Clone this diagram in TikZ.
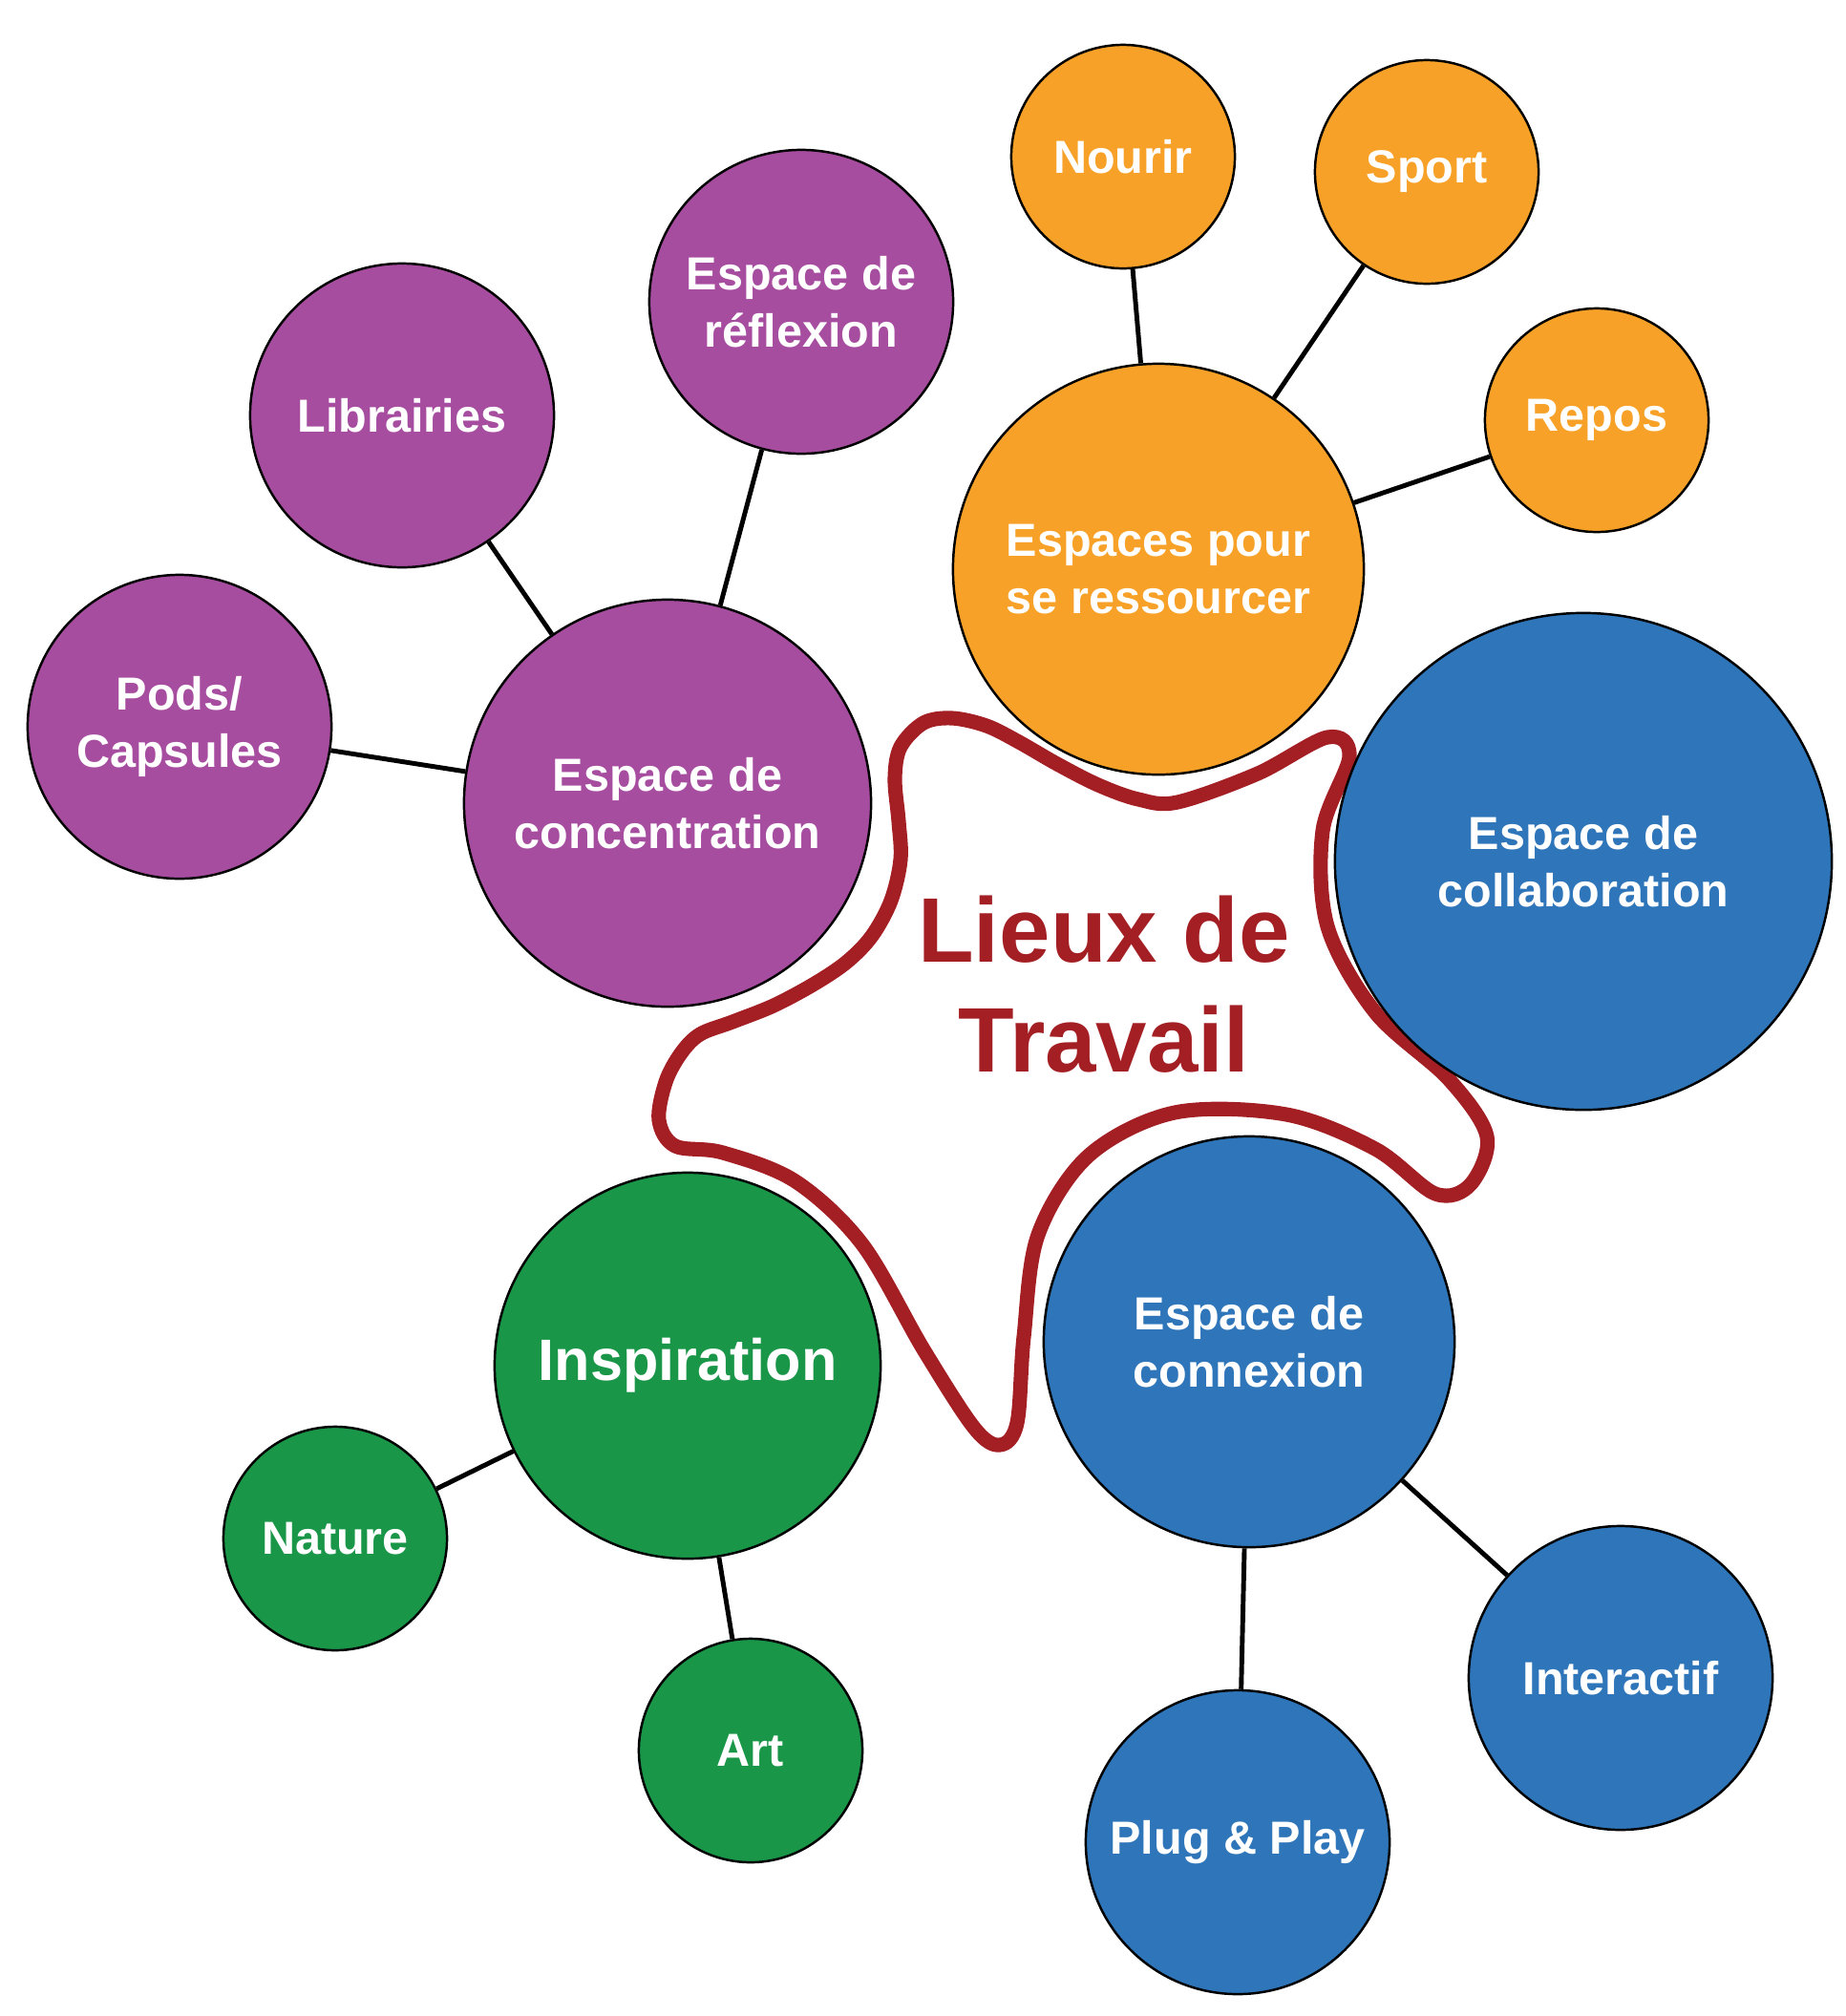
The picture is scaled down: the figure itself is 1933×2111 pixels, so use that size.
\documentclass[tikz,border=0pt]{standalone}
\usepackage{fontspec}
\setmainfont{Liberation Sans}
\usepackage{tikz}
\usetikzlibrary{backgrounds}
\definecolor{cpurple}{HTML}{A64DA0}
\definecolor{corange}{HTML}{F7A128}
\definecolor{cblue}{HTML}{2E75B9}
\definecolor{cgreen}{HTML}{1A9648}
\definecolor{cred}{HTML}{A31F24}
\newcommand{\bubfont}{\fontsize{13.8}{17.2}\selectfont\bfseries}

\begin{document}
\begin{tikzpicture}[x=0.01cm,y=-0.01cm,
    bub/.style={circle,draw=black,line width=0.7pt,text=white,align=center,
                inner sep=0pt,font=\bubfont},
    sm/.style={bub,minimum size=2.34cm},
    md/.style={bub,minimum size=3.18cm},
    lg/.style={bub,minimum size=4.3cm},
    link/.style={draw=black,line width=1.4pt},
    blob/.style={draw=cred,line width=4.3pt,line join=round}]
    \useasboundingbox (0,0) rectangle (1933,2111);
    % concentration
    \node[lg,fill=cpurple,minimum size=4.26cm] (conc)  at (699,841)  {Espace de\\concentration};
    \node[md,fill=cpurple] (libr)  at (421,435)  {Librairies};
    \node[md,fill=cpurple] (refl)  at (839,316)  {Espace de\\réflexion};
    \node[md,fill=cpurple] (pods)  at (188,761)  {Pods/\\Capsules};
    % ressourcer
    \node[lg,fill=corange] (ress)  at (1213,596) {Espaces pour\\se ressourcer};
    \node[sm,fill=corange] (nour)  at (1176,164) {Nourir};
    \node[sm,fill=corange] (sport) at (1494,180) {Sport};
    \node[sm,fill=corange] (repos) at (1672,440) {Repos};
    % collaboration / connexion
    \node[bub,fill=cblue,minimum size=5.2cm] (collab) at (1658,902) {Espace de\\collaboration};
    \node[lg,fill=cblue]   (connex) at (1308,1405) {Espace de\\connexion};
    \node[md,fill=cblue]   (inter)  at (1697,1757) {Interactif};
    \node[md,fill=cblue]   (plug)   at (1296,1929) {Plug \& Play};
    % inspiration
    \node[bub,fill=cgreen,minimum size=4.04cm,font=\fontsize{17.4}{21}\selectfont\bfseries]
          (insp) at (720,1430) {Inspiration};
    \node[sm,fill=cgreen]  (nature) at (351,1611) {Nature};
    \node[sm,fill=cgreen]  (art)    at (786,1833) {Art};
    \node[text=cred,align=center,font=\fontsize{27.3}{32.7}\selectfont\bfseries]
          (lieux) at (1156,1031) {Lieux de\\Travail};
    \draw[link] (conc) -- (libr);
    \draw[link] (conc) -- (refl);
    \draw[link] (conc) -- (pods);
    \draw[link] (ress) -- (nour);
    \draw[link] (ress) -- (sport);
    \draw[link] (ress) -- (repos);
    \draw[link] (connex) -- (inter);
    \draw[link] (connex) -- (plug);
    \draw[link] (insp) -- (nature);
    \draw[link] (insp) -- (art);
    \begin{scope}[on background layer]
      \draw[blob] plot[smooth cycle,tension=0.55] coordinates {
        (997,752) (1033,760) (1067,777) (1107,800) (1150,822) (1192,837)
        (1233,840) (1317,810) (1390,772)
        (1413,792) (1385,870) (1390,970) (1440,1060) (1517,1130) (1557,1190)
        (1540,1240) (1503,1250) (1440,1203) (1347,1167) (1230,1165) (1140,1210)
        (1087,1293) (1072,1400) (1065,1490) (1047,1513) (1020,1495) (967,1413)
        (903,1303) (833,1237) (757,1207) (707,1200) (690,1173) (697,1133)
        (713,1103) (733,1083) (767,1070) (810,1053) (853,1030) (887,1007)
        (913,980) (933,943) (943,900) (941,860) (937,815) (943,782) (967,757)};
    \end{scope}
\end{tikzpicture}
\end{document}
